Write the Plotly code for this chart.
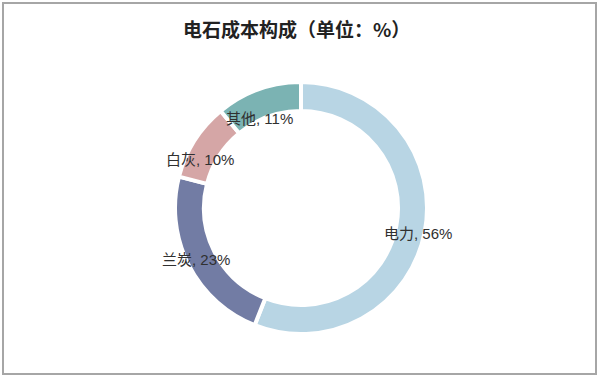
import math
import plotly.graph_objects as go

title_text = "电石成本构成（单位：%）"
categories = ["电力", "兰炭", "白灰", "其他"]
values = [56, 23, 10, 11]
colors = ["#B8D5E4", "#727CA4", "#D5A6A6", "#7BB3B3"]

W, H = 600, 379
cx, cy, R = 301, 208, 126  # pixel centre and outer radius of the ring

fig = go.Figure(go.Pie(
    labels=categories,
    values=values,
    hole=0.77,
    sort=False,
    direction="clockwise",
    rotation=0,
    marker=dict(colors=colors, line=dict(color="white", width=4)),
    textinfo="none",
    hoverinfo="label+value",
    domain=dict(x=[(cx - R) / W, (cx + R) / W], y=[(H - cy - R) / H, (H - cy + R) / H]),
    showlegend=False,
))

# label placement: mid-angle of each slice, with small style offsets
label_r = 113
shifts = [(6, -4), (-4, 0), (-6, -12), (-3, -17)]
total = sum(values)
acc = 0
for cat, v, (dx, dy) in zip(categories, values, shifts):
    mid = (acc + v / 2) / total * 2 * math.pi
    acc += v
    px = cx + label_r * math.sin(mid)
    py = cy - label_r * math.cos(mid)
    fig.add_annotation(
        x=px / W, y=1 - py / H, xref="paper", yref="paper",
        xanchor="center", yanchor="middle",
        text=f"{cat}, {v}%", showarrow=False,
        xshift=dx, yshift=dy,
        font=dict(family="Liberation Sans, Noto Sans CJK SC", size=15, color="#303030"),
    )

fig.add_annotation(
    x=296 / W, y=1 - 28 / H, xref="paper", yref="paper",
    xanchor="center", yanchor="middle",
    text=f"<b>{title_text}</b>", showarrow=False,
    font=dict(family="Noto Sans CJK SC", size=19, color="#222222"),
)

fig.add_shape(
    type="rect", xref="paper", yref="paper",
    x0=3 / W, x1=596 / W, y0=(H - 374) / H, y1=(H - 3) / H,
    line=dict(color="#A6A6A6", width=2), fillcolor="rgba(0,0,0,0)",
)

fig.update_layout(
    width=W, height=H,
    margin=dict(l=0, r=0, t=0, b=0),
    paper_bgcolor="white", plot_bgcolor="white",
)

fig.write_html(
    "out.html",
    config={"displayModeBar": False},
    post_script="document.body.style.margin='0';document.body.style.overflow='hidden';",
)
